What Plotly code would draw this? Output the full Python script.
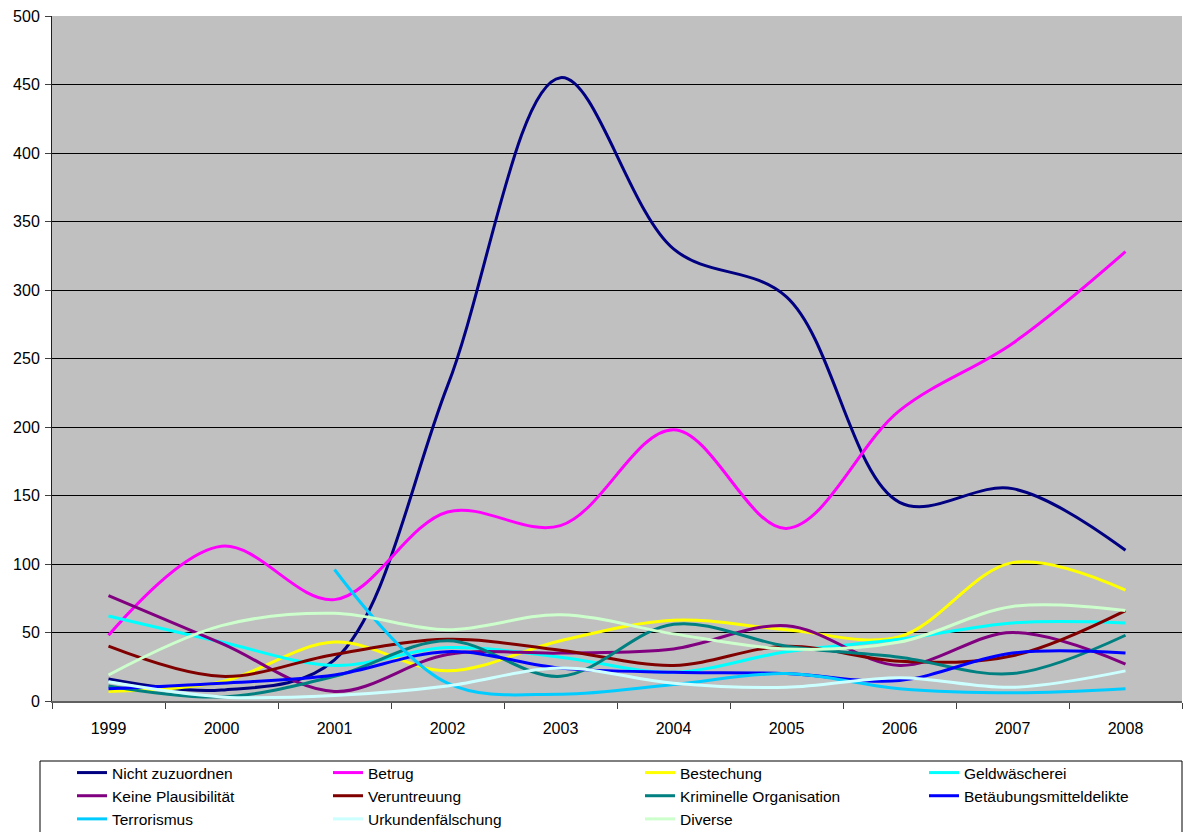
import plotly.graph_objects as go

years = ["1999", "2000", "2001", "2002", "2003", "2004", "2005", "2006", "2007", "2008"]

nicht_zuzuordnen = [16, 8, 30, 230, 455, 330, 295, 145, 155, 110]
betrug = [48, 113, 74, 138, 128, 198, 126, 212, 261, 328]
bestechung = [7, 14, 43, 22, 44, 59, 52, 47, 101, 81]
geldwaescherei = [62, 43, 26, 39, 32, 21, 36, 45, 57, 57]
keine_plausibilitaet = [77, 42, 7, 34, 35, 38, 55, 26, 50, 27]
veruntreuung = [40, 18, 34, 45, 37, 26, 40, 29, 33, 66]
kriminelle_organisation = [11, 3, 18, 44, 18, 56, 40, 32, 20, 48]
betaeubungsmitteldelikte = [9, 13, 19, 36, 24, 21, 20, 15, 35, 35]
terrorismus = [None, None, 96, 13, 5, 12, 20, 9, 6, 9]
urkundenfaelschung = [14, 3, 4, 11, 24, 13, 10, 17, 10, 22]
diverse = [19, 55, 64, 52, 63, 49, 38, 43, 69, 66]

series = [
    ("Nicht zuzuordnen", nicht_zuzuordnen, "#000080", "legend"),
    ("Betrug", betrug, "#FF00FF", "legend2"),
    ("Bestechung", bestechung, "#FFFF00", "legend3"),
    ("Geldwäscherei", geldwaescherei, "#00FFFF", "legend4"),
    ("Keine Plausibilität", keine_plausibilitaet, "#800080", "legend"),
    ("Veruntreuung", veruntreuung, "#800000", "legend2"),
    ("Kriminelle Organisation", kriminelle_organisation, "#008080", "legend3"),
    ("Betäubungsmitteldelikte", betaeubungsmitteldelikte, "#0000FF", "legend4"),
    ("Terrorismus", terrorismus, "#00CCFF", "legend"),
    ("Urkundenfälschung", urkundenfaelschung, "#CCFFFF", "legend2"),
    ("Diverse", diverse, "#CCFFCC", "legend3"),
]

W, H = 1191, 832
ML, MR, MT, MB = 52, 9, 16, 131
PW, PH = W - ML - MR, H - MT - MB

def px_x(p):
    return (p - ML) / PW

def px_y(p):
    return (H - MB - p) / PH

fig = go.Figure()
for name, vals, color, leg in series:
    fig.add_trace(go.Scatter(
        x=years, y=vals, name=name, mode="lines",
        line=dict(color=color, width=3, shape="spline", smoothing=1),
        legend=leg,
    ))

font = dict(family="Liberation Sans, Arial, sans-serif", size=16, color="#000000")
legend_font = dict(family="Liberation Sans, Arial, sans-serif", size=15.5, color="#000000")

legend_cols = [72, 328, 640, 924]
legend_common = dict(
    orientation="v", xanchor="left", yanchor="top", y=px_y(756),
    bgcolor="rgba(0,0,0,0)", borderwidth=0, font=legend_font,
    tracegroupgap=0, itemwidth=30,
)
fig.update_layout(
    legend=dict(x=px_x(legend_cols[0]), **legend_common),
    legend2=dict(x=px_x(legend_cols[1]), **legend_common),
    legend3=dict(x=px_x(legend_cols[2]), **legend_common),
    legend4=dict(x=px_x(legend_cols[3]), **legend_common),
)

# legend frame
fig.add_shape(
    type="rect", xref="paper", yref="paper",
    x0=px_x(40), x1=px_x(1182), y0=px_y(845), y1=px_y(761),
    line=dict(color="#000000", width=1), fillcolor="#FFFFFF", layer="below",
)

fig.update_layout(
    width=W, height=H,
    margin=dict(l=ML, r=MR, t=MT, b=MB, pad=0, autoexpand=False),
    paper_bgcolor="#FFFFFF", plot_bgcolor="#C0C0C0",
    font=font, showlegend=True,
    xaxis=dict(
        type="category", range=[-0.5, len(years) - 0.5],
        tickson="boundaries", ticks="outside", ticklen=6,
        tickcolor="#404040", showline=True, linecolor="#606060", linewidth=2,
        showgrid=False, ticklabelstandoff=12, tickfont=font, automargin=False,
    ),
    yaxis=dict(
        range=[0, 500], dtick=50, ticks="outside", ticklen=6, tickcolor="#404040",
        showline=True, linecolor="#202020", linewidth=1,
        showgrid=True, gridcolor="#000000", gridwidth=1, zeroline=False,
        ticklabelstandoff=2, tickfont=font, automargin=False,
    ),
)

fig.write_html("out.html")
